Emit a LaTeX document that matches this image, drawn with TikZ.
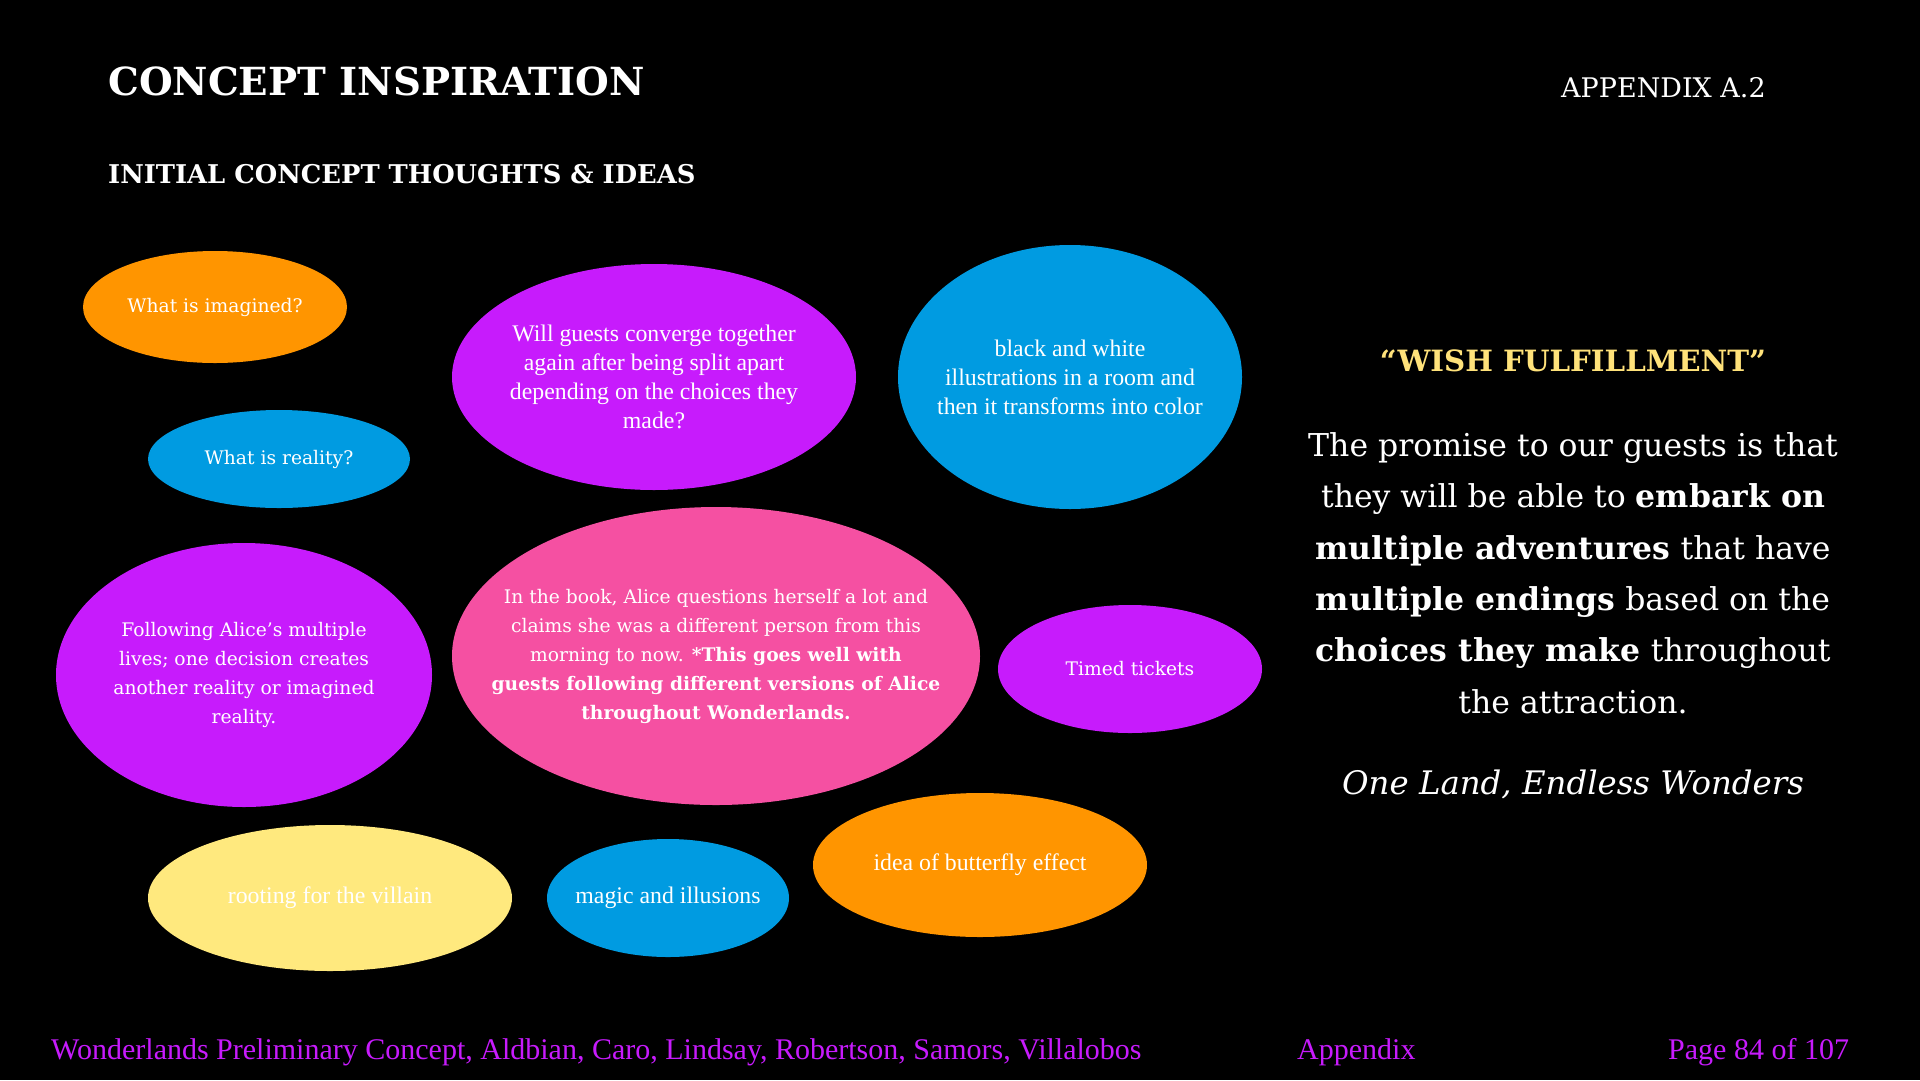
\documentclass[tikz,border=0pt]{standalone}
\usepackage{fontspec}
\setmainfont{DejaVu Serif}
\newfontfamily\condfont{Liberation Serif}
\usetikzlibrary{shapes.geometric}

\definecolor{bubbleorange}{HTML}{FF9500}
\definecolor{bubbleblue}{HTML}{009BE1}
\definecolor{bubblepurple}{HTML}{C71BFC}
\definecolor{bubblepink}{HTML}{F550A2}
\definecolor{bubbleyellow}{HTML}{FFE97E}
\definecolor{wishyellow}{HTML}{FFE27A}
\definecolor{footpurple}{HTML}{C71BFC}

\begin{document}
\begin{tikzpicture}[
    x=1pt, y=-1pt,
    bubble/.style={ellipse, inner sep=0pt, draw=none},
    bubtext/.style={text=white, align=center, inner sep=0pt, font=\fontsize{18.7}{29}\selectfont},
    condtext/.style={text=white, align=center, inner sep=0pt, font=\condfont\fontsize{23.8}{29}\selectfont},
    heading/.style={text=white, anchor=west, inner sep=0pt},
    foot/.style={text=footpurple, anchor=west, inner sep=0pt, font=\condfont\fontsize{30}{34}\selectfont}
]
\fill[black] (0,0) rectangle (1920,1080);
\useasboundingbox (0,0) rectangle (1920,1080);

% headings
\node[heading, font=\bfseries\fontsize{38.7}{44}\selectfont] (title) at (108,81) {CONCEPT INSPIRATION};
\node[heading, font=\bfseries\fontsize{25.8}{30}\selectfont] (subtitle) at (108,174) {INITIAL CONCEPT THOUGHTS \& IDEAS};
\node[heading, font=\fontsize{27}{30}\selectfont] (appx) at (1561,88) {APPENDIX A.2};

% bubbles
\node[bubble, fill=bubbleorange, minimum width=264pt, minimum height=112pt] (imagined) at (215,307) {};
\node[bubble, fill=bubbleblue, minimum width=262pt, minimum height=98pt] (reality) at (279,459) {};
\node[bubble, fill=bubblepurple, minimum width=404pt, minimum height=226pt] (converge) at (654,377) {};
\node[bubble, fill=bubbleblue, minimum width=344pt, minimum height=264pt] (bwcolor) at (1070,377) {};
\node[bubble, fill=bubblepurple, minimum width=376pt, minimum height=264pt] (lives) at (244,675) {};
\node[bubble, fill=bubblepink, minimum width=528pt, minimum height=298pt] (book) at (716,656) {};
\node[bubble, fill=bubblepurple, minimum width=264pt, minimum height=128pt] (tickets) at (1130,669) {};
\node[bubble, fill=bubbleyellow, minimum width=364pt, minimum height=146pt] (villain) at (330,898) {};
\node[bubble, fill=bubbleblue, minimum width=242pt, minimum height=118pt] (magic) at (668,898) {};
\node[bubble, fill=bubbleorange, minimum width=334pt, minimum height=144pt] (butterfly) at (980,865) {};

% bubble texts
\node[bubtext] (imagined-t) at (imagined) {What is imagined?};
\node[bubtext] (reality-t) at (reality) {What is reality?};
\node[condtext] (converge-t) at (converge) {Will guests converge together\\again after being split apart\\depending on the choices they\\made?};
\node[condtext] (bwcolor-t) at (bwcolor) {black and white\\illustrations in a room and\\then it transforms into color};
\node[bubtext] (lives-t) at (lives) {Following Alice’s multiple\\lives; one decision creates\\another reality or imagined\\reality.};
\node[bubtext] (book-t) at (book) {In the book, Alice questions herself a lot and\\claims she was a different person from this\\morning to now. \textbf{*This goes well with}\\\textbf{guests following different versions of Alice}\\\textbf{throughout Wonderlands.}};
\node[bubtext] (tickets-t) at (tickets) {Timed tickets};
\node[condtext] (villain-t) at (villain) {rooting for the villain};
\node[condtext] (magic-t) at (magic) {magic and illusions};
\node[condtext] (butterfly-t) at (butterfly) {idea of butterfly effect};

% wish fulfillment panel
\node[text=wishyellow, inner sep=0pt, font=\bfseries\fontsize{29.3}{34}\selectfont] (wish) at (1573,361) {“WISH FULFILLMENT”};
\node[text=white, align=center, inner sep=0pt, font=\fontsize{31.5}{51.4}\selectfont] (promise) at (1573,573) {The promise to our guests is that\\they will be able to \textbf{embark on}\\\textbf{multiple adventures} that have\\\textbf{multiple endings} based on the\\\textbf{choices they make} throughout\\the attraction.};
\node[text=white, inner sep=0pt, font=\itshape\fontsize{32.4}{36}\selectfont] (motto) at (1573,784) {One Land, Endless Wonders};

% footer
\node[foot] (credits) at (51,1052) {Wonderlands Preliminary Concept, Aldbian, Caro, Lindsay, Robertson, Samors, Villalobos};
\node[foot] (section) at (1297,1052) {Appendix};
\node[foot] (page) at (1668,1052) {Page 84 of 107};
\end{tikzpicture}
\end{document}
